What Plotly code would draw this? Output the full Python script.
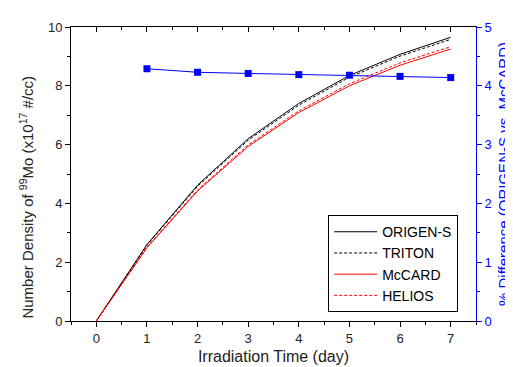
import plotly.graph_objects as go

days = [0, 1, 2, 3, 4, 5, 6, 7]
origen_s = [0, 2.60, 4.62, 6.20, 7.40, 8.35, 9.07, 9.65]
triton = [0, 2.58, 4.58, 6.15, 7.34, 8.29, 9.01, 9.58]
mccard = [0, 2.49, 4.42, 5.94, 7.09, 8.00, 8.70, 9.25]
helios = [0, 2.51, 4.46, 5.99, 7.15, 8.07, 8.78, 9.33]
diff_days = [1, 2, 3, 4, 5, 6, 7]
pct_diff = [4.29, 4.23, 4.21, 4.19, 4.18, 4.16, 4.14]

FONT = "Liberation Sans, Arial, sans-serif"
DASH = "3px,2px"

fig = go.Figure()
fig.add_trace(go.Scatter(x=days, y=origen_s, mode="lines", name="ORIGEN-S",
                         line=dict(color="black", width=1)))
fig.add_trace(go.Scatter(x=days, y=triton, mode="lines", name="TRITON",
                         line=dict(color="black", width=1, dash=DASH)))
fig.add_trace(go.Scatter(x=days, y=mccard, mode="lines", name="McCARD",
                         line=dict(color="red", width=1)))
fig.add_trace(go.Scatter(x=days, y=helios, mode="lines", name="HELIOS",
                         line=dict(color="red", width=1, dash=DASH)))
fig.add_trace(go.Scatter(x=diff_days, y=pct_diff, mode="lines+markers", yaxis="y2",
                         showlegend=False,
                         line=dict(color="blue", width=1),
                         marker=dict(symbol="square", size=7, color="blue")))
fig.add_trace(go.Scatter(x=[0], y=[0], xaxis="x2", mode="markers",
                         marker=dict(opacity=0), showlegend=False, hoverinfo="skip"))

fig.update_layout(
    width=513, height=367,
    margin=dict(l=63, r=40, t=13, b=54),
    paper_bgcolor="white", plot_bgcolor="white",
    font=dict(family=FONT, size=13, color="#222"),
    xaxis=dict(range=[-0.5, 7.5], tickvals=list(range(8)), showgrid=False, zeroline=False,
               showline=True, linecolor="black", linewidth=1,
               ticks="outside", ticklen=5, tickcolor="black",
               minor=dict(dtick=0.5, tick0=0, ticks="outside", ticklen=3, tickcolor="black"),
               title=dict(text="Irradiation Time (day)", font=dict(size=16), standoff=6)),
    xaxis2=dict(range=[-0.5, 7.5], overlaying="x", side="top", tickvals=list(range(8)),
                showticklabels=False, showgrid=False, zeroline=False,
                showline=True, linecolor="black", linewidth=1,
                ticks="inside", ticklen=5, tickcolor="black",
                minor=dict(dtick=0.5, tick0=0, ticks="inside", ticklen=3, tickcolor="black")),
    yaxis=dict(range=[0, 10], dtick=2, showgrid=False, zeroline=False,
               showline=True, linecolor="black", linewidth=1,
               ticks="outside", ticklen=5, tickcolor="black",
               minor=dict(dtick=1, ticks="outside", ticklen=3, tickcolor="black")),
    yaxis2=dict(range=[0, 5], dtick=1, overlaying="y", side="right", showgrid=False,
                zeroline=False, showline=True, linecolor="blue", linewidth=1,
                ticks="outside", ticklen=5, tickcolor="blue",
                tickfont=dict(color="blue"),
                minor=dict(dtick=0.5, ticks="outside", ticklen=3, tickcolor="blue"),
                title=dict(text="% Difference (ORIGEN-S vs. McCARD)",
                           font=dict(size=15, color="blue"), standoff=7)),
    legend=dict(x=0.635, y=0.36, xanchor="left", yanchor="top",
                bordercolor="black", borderwidth=1, bgcolor="white",
                font=dict(size=14, color="black"), tracegroupgap=0,
                itemwidth=43),
    showlegend=True,
    annotations=[
        dict(text="Number Density of <sup>99</sup>Mo (x10<sup>17</sup> #/cc)",
             xref="paper", yref="paper", x=-0.111, y=0.42, textangle=-90,
             xanchor="center", yanchor="middle", showarrow=False,
             font=dict(size=15, color="#222")),
    ],
)

fig.write_html("out.html")
